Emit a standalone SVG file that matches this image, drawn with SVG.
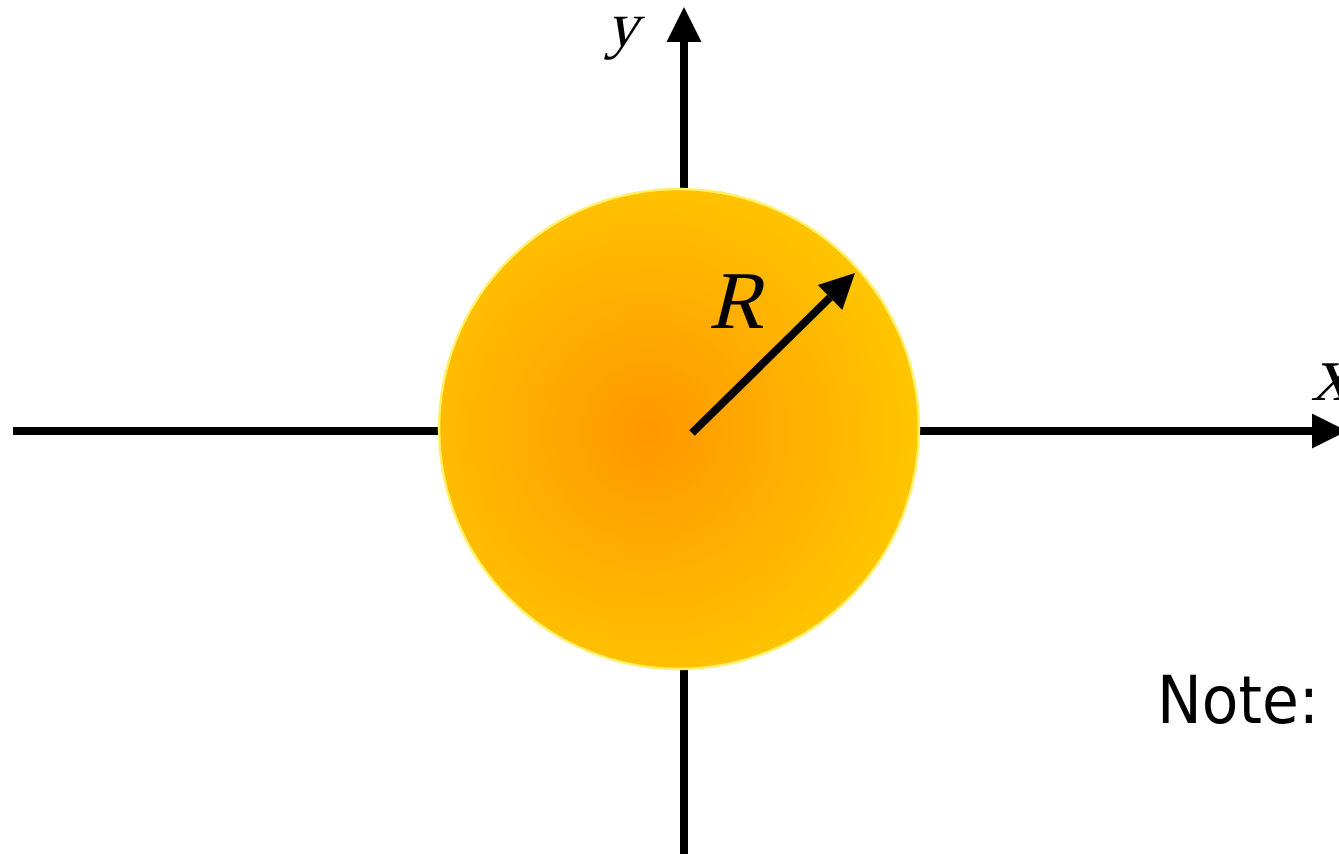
<svg xmlns="http://www.w3.org/2000/svg" width="1339" height="854" viewBox="0 0 1339 854">
<style>
.axis{stroke:#000;stroke-width:8;fill:none}
.math{font-family:"Liberation Serif",serif;fill:#000}
</style>
<defs>
<marker id="ah" markerUnits="userSpaceOnUse" markerWidth="36" markerHeight="36" refX="0" refY="17.5" orient="auto" overflow="visible">
<path d="M0,0 L35,17.5 L0,35 z" fill="#000"/>
</marker>
<radialGradient id="sun" cx="650" cy="432" r="270" gradientUnits="userSpaceOnUse">
<stop offset="0" stop-color="#FF9700"/>
<stop offset="1" stop-color="#FFC600"/>
</radialGradient>
</defs>
<g id="connectors">
<line id="x-axis" class="axis" x1="13" y1="431" x2="1312" y2="431" marker-end="url(#ah)"/>
<line id="y-axis" class="axis" x1="684" y1="854" x2="684" y2="42" marker-end="url(#ah)"/>
</g>
<g id="sphere">
<circle cx="679" cy="429" r="240" fill="url(#sun)" stroke="#FFF06A" stroke-width="2.5"/>
</g>
<g id="radius">
<line class="axis" x1="692" y1="433" x2="830" y2="297.5" marker-end="url(#ah)"/>
<text class="math" transform="translate(708,328) skewX(-14)" font-size="82">R</text>
</g>
<g id="labels">
<text class="math" transform="translate(606,46) skewX(-14)" font-size="64">y</text>
<text class="math" transform="translate(1311,400) skewX(-14)" font-size="80">x</text>
<text font-family="Comic Sans MS, DejaVu Sans, sans-serif" x="1157" y="723" font-size="66" textLength="162" lengthAdjust="spacingAndGlyphs">Note:</text>
</g>
</svg>
